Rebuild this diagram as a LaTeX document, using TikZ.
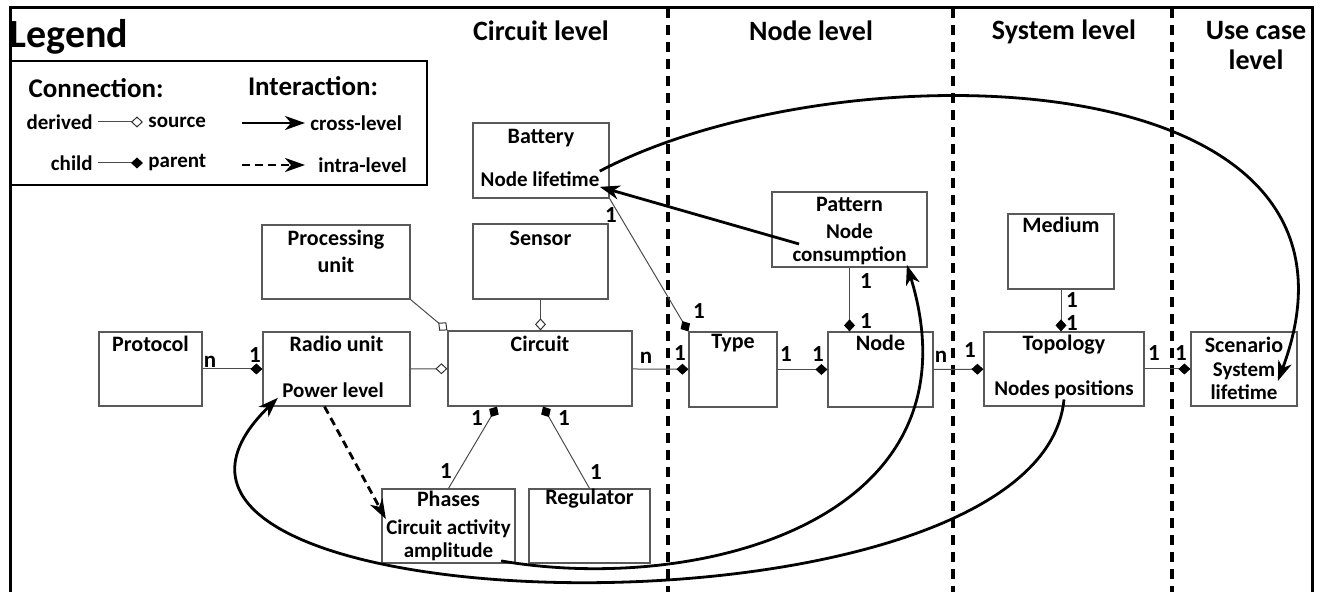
\documentclass[tikz,border=0pt]{standalone}
\usepackage{fontspec}
\setmainfont{Carlito}
\usetikzlibrary{arrows.meta}

\begin{document}
\begin{tikzpicture}[
    x=0.5pt, y=-0.5pt,
    block/.style={rectangle, draw=black!65, line width=0.6pt, inner sep=0pt},
    boxtitle/.style={font=\bfseries\fontsize{11}{13.5}\selectfont, align=center, inner sep=0pt},
    boxsub/.style={font=\bfseries\fontsize{10.5}{11.5}\selectfont, align=center, inner sep=0pt},
    mult/.style={font=\bfseries\fontsize{11.5}{13}\selectfont, inner sep=0pt},
    header/.style={font=\bfseries\fontsize{14}{15}\selectfont, align=center, inner sep=0pt},
    legendhead/.style={font=\bfseries\fontsize{13.5}{15}\selectfont, inner sep=0pt},
    legendtext/.style={font=\bfseries\fontsize{10.5}{12}\selectfont, inner sep=2.5pt},
    derivedline/.style={draw=black!70, line width=0.5pt, -{Diamond[open, length=6pt, width=5.5pt, color=black!80]}},
    childline/.style={draw=black!70, line width=0.5pt, -{Diamond[length=6pt, width=5.5pt, color=black]}},
    crossarrow/.style={line width=1.4pt, -{Stealth[length=10pt, width=7pt, inset=3pt]}},
    intraarrow/.style={crossarrow, dash pattern=on 4pt off 2.5pt},
    levelline/.style={line width=1.6pt, dash pattern=on 5pt off 3.5pt}
  ]
    \useasboundingbox (0,0) rectangle (1323,592);

    % Frame and levels
    \draw[line width=1.5pt] (10,592) -- (10,8) -- (1312,8) -- (1312,592);
    \foreach \x in {668,953,1172} {
      \draw[levelline] (\x,8) -- (\x,592);
    }
    \node[header] (hcircuit) at (541,31) {Circuit level};
    \node[header] (hnode) at (811,31) {Node level};
    \node[header] (hsystem) at (1064,32) {System level};
    \node[header] (husecase) at (1256,46) {Use case\\level};

    % Legend
    \node[font=\bfseries\fontsize{20}{22}\selectfont, anchor=west, inner sep=0pt] (legend) at (9,37) {Legend};
    \draw[line width=1pt] (10,61) rectangle (427,185);
    \node[legendhead] (connection) at (96,88) {Connection:};
    \node[legendhead] (interaction) at (313,86) {Interaction:};
    \node[legendtext, anchor=east] (derived) at (98,122) {derived};
    \node[legendtext, anchor=west] (source) at (143,122) {source};
    \node[legendtext, anchor=east] (child) at (98,163) {child};
    \node[legendtext, anchor=west] (parent) at (143,163) {parent};
    \node[legendtext, anchor=west] (crosslevel) at (305,123) {cross-level};
    \node[legendtext, anchor=west] (intralevel) at (313,165) {intra-level};
    \coordinate (crossfrom) at (242,123);
    \coordinate (intrafrom) at (242,165);
    \draw[derivedline] (derived.east) -- (source.west);
    \draw[childline] (child.east) -- (parent.west);
    \draw[crossarrow] (crossfrom) -- (crosslevel.west);
    \draw[intraarrow] (intrafrom) -- ([xshift=-4pt]intralevel.west);

    % Boxes
    \node[block, minimum width=51.5pt, minimum height=37pt] (protocol) at (150.5,369) {};
    \node[block, minimum width=73.5pt, minimum height=37pt] (radio) at (336.5,369) {};
    \node[block, minimum width=74pt, minimum height=37pt] (procunit) at (336,262) {};
    \node[block, minimum width=92pt, minimum height=37.5pt] (circuit) at (540,368.5) {};
    \node[block, minimum width=67.5pt, minimum height=37.5pt] (sensor) at (540.5,261.5) {};
    \node[block, minimum width=68pt, minimum height=37.5pt] (battery) at (541,160.5) {};
    \node[block, minimum width=66.5pt, minimum height=37pt] (phases) at (448.5,526) {};
    \node[block, minimum width=60.5pt, minimum height=37pt] (regulator) at (589.5,526) {};
    \node[block, minimum width=44pt, minimum height=37.5pt] (type) at (733,369.5) {};
    \node[block, minimum width=52.5pt, minimum height=37.5pt] (nodelvl) at (880.5,369.5) {};
    \node[block, minimum width=77.5pt, minimum height=37.5pt] (pattern) at (849.5,229.5) {};
    \node[block, minimum width=53pt, minimum height=37.5pt] (medium) at (1061,251.5) {};
    \node[block, minimum width=80pt, minimum height=37pt] (topology) at (1064,369) {};
    \node[block, minimum width=53pt, minimum height=37pt] (scenario) at (1244,369) {};

    % Box texts
    \node[boxtitle] (protocolT) at (150.5,344) {Protocol};
    \node[boxtitle] (radioT) at (336.5,344) {Radio unit};
    \node[boxsub] (radioS) at (333,390) {Power level};
    \node[boxtitle] (procunitT) at (336,251.5) {Processing\\unit};
    \node[boxtitle] (circuitT) at (540,344) {Circuit};
    \node[boxtitle] (sensorT) at (540.5,238) {Sensor};
    \node[boxtitle] (batteryT) at (541,138) {Battery};
    \node[boxsub] (batteryS) at (540,179) {Node lifetime};
    \node[boxtitle] (phasesT) at (448.5,499) {Phases};
    \node[boxsub] (phasesS) at (448.5,540) {Circuit activity\\amplitude};
    \node[boxtitle] (regulatorT) at (589.5,499) {Regulator};
    \node[boxtitle] (typeT) at (733,343) {Type};
    \node[boxtitle] (nodelvlT) at (880.5,343) {Node};
    \node[boxtitle] (patternT) at (849.5,204) {Pattern};
    \node[boxsub] (patternS) at (849.5,244) {Node\\consumption};
    \node[boxtitle] (mediumT) at (1061,225) {Medium};
    \node[boxtitle] (topologyT) at (1064,345) {Topology};
    \node[boxsub] (topologyS) at (1064,390) {Nodes positions};
    \node[boxtitle] (scenarioT) at (1244,345) {Scenario};
    \node[boxsub] (scenarioS) at (1244,381) {System\\lifetime};

    % Connections
    \draw[childline] (protocol) -- (radio);
    \draw[derivedline] (radio) -- (circuit);
    \draw[derivedline] (procunit.south east) -- (circuit.north west);
    \draw[derivedline] (sensor.south) -- (sensor.south |- circuit.north);
    \draw[childline] (circuit) -- (type);
    \draw[childline] (battery.south east) -- (type.north west);
    \draw[childline] (phases.north) -- ([xshift=-21.5pt]circuit.south);
    \draw[childline] (regulator.north) -- ([xshift=1.5pt]circuit.south);
    \draw[childline] (type) -- (nodelvl);
    \draw[childline] (pattern.south) -- (pattern.south |- nodelvl.north);
    \draw[childline] (nodelvl) -- (topology);
    \draw[childline] (medium.south) -- (medium.south |- topology.north);
    \draw[childline] (topology) -- (scenario);

    % Multiplicities
    \foreach \x/\y/\t [count=\i] in {210/362/n, 255/355/1, 611/215/1, 699/311/1, 646/358/n, 680/353/1,
        477/418/1, 446/471/1, 564/418/1, 596/472/1, 786/354/1, 818/354/1, 866/281/1, 866/321/1,
        941/357/n, 970/350/1, 1072/300/1, 1072/323/1, 1154/353/1, 1181/353/1} {
      \node[mult] (mult\i) at (\x,\y) {\t};
    }

    % Interactions
    \draw[crossarrow] ([xshift=3.5pt]patternS.west) -- (batteryS.south east);
    \draw[crossarrow] (batteryS.north east) .. controls (840,45) and (1400,55) .. (scenarioS.east);
    \draw[crossarrow] ([xshift=-5pt]phasesS.south east) .. controls (700,595) and (985,520) .. (patternS.south east);
    \draw[crossarrow] (topologyS.south) .. controls (1040,655) and (40,630) .. ([xshift=-2pt]radioS.south west);
    \draw[intraarrow] ([xshift=-6pt]radio.south) -- (phasesS.north west);
  \end{tikzpicture}
\end{document}
